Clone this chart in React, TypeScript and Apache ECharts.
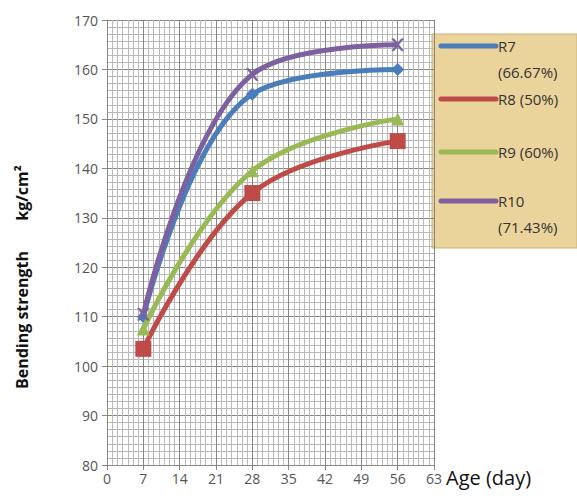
import React, { useEffect, useRef } from "react";
import * as echarts from "echarts";

const days = [7, 28, 56];
const seriesNames = ["R7", "R8", "R9", "R10"];
const legendLabels = ["R7\n(66.67%)", "R8 (50%)", "R9 (60%)", "R10\n(71.43%)"];
const r7 = [110, 155, 160];
const r8 = [103.5, 135, 145.5];
const r9 = [107.5, 139.5, 150];
const r10 = [110.5, 159, 165];
const xTicks = [0, 7, 14, 21, 28, 35, 42, 49, 56, 63];
const yTicks = [80, 90, 100, 110, 120, 130, 140, 150, 160, 170];
const yTitle = "Bending strength";
const yUnit = "kg/cm²";
const xTitle = "Age (day)";

const colors = ["#4a7ebb", "#be4b48", "#98b954", "#7d60a0"];
const xMark = "path://M0,0 L2,0 L5,3.5 L8,0 L10,0 L6,5 L10,10 L8,10 L5,6.5 L2,10 L0,10 L4,5 Z";
const symbols = ["diamond", "rect", "triangle", xMark];
const symbolSizes = [13, 16, 13, 12];

export default function App() {
  const ref = useRef<HTMLDivElement>(null);
  useEffect(() => {
    if (!ref.current) return;
    const chart = echarts.init(ref.current, null, { renderer: "svg" });
    const values = [r7, r8, r9, r10];
    const font = "'Open Sans', Lato, sans-serif";
    const legendY = [46, 99, 152, 201];
    const graphic: any[] = [
      {
        type: "rect",
        shape: { x: 432, y: 34, width: 145, height: 214 },
        style: { fill: "#ebd39c", stroke: "#c9b27a", lineWidth: 1 },
      },
    ];
    legendLabels.forEach((lab, i) => {
      graphic.push({
        type: "line",
        shape: { x1: 441, y1: legendY[i], x2: 496, y2: legendY[i] },
        style: { stroke: colors[i], lineWidth: 5, lineCap: "round" },
      });
      graphic.push({
        type: "text",
        x: 498,
        y: legendY[i] - 13,
        style: {
          text: lab,
          fill: "#333",
          font: `15px ${font}`,
          lineHeight: 26,
          textVerticalAlign: "top",
        },
      });
    });
    graphic.push({
      type: "text",
      x: 22,
      y: 320,
      rotation: Math.PI / 2,
      style: {
        text: yTitle,
        fill: "#111",
        font: `bold 16px ${font}`,
        textAlign: "center",
        textVerticalAlign: "middle",
      },
    });
    graphic.push({
      type: "text",
      x: 22,
      y: 193,
      rotation: Math.PI / 2,
      style: {
        text: yUnit,
        fill: "#111",
        font: `bold 16px ${font}`,
        textAlign: "center",
        textVerticalAlign: "middle",
      },
    });
    graphic.push({
      type: "text",
      x: 446,
      y: 477,
      style: {
        text: xTitle,
        fill: "#111",
        font: `20px ${font}`,
        textAlign: "left",
        textVerticalAlign: "middle",
      },
    });

    chart.setOption({
      animation: false,
      backgroundColor: "#ffffff",
      grid: { left: 107, top: 20, right: 143, bottom: 35, containLabel: false },
      xAxis: {
        type: "value",
        min: xTicks[0],
        max: xTicks[xTicks.length - 1],
        interval: 7,
        axisLine: { show: true, onZero: false, lineStyle: { color: "#888", width: 1 } },
        axisTick: { show: true, length: 5, lineStyle: { color: "#888" } },
        axisLabel: { color: "#555", fontSize: 14, fontFamily: font, margin: 6 },
        splitLine: { show: true, lineStyle: { color: "#858585", width: 1 } },
        minorTick: { show: false, splitNumber: 7 },
        minorSplitLine: { show: true, lineStyle: { color: "#b9b9b9", width: 1 } },
      },
      yAxis: {
        type: "value",
        min: yTicks[0],
        max: yTicks[yTicks.length - 1],
        interval: 10,
        axisLine: { show: true, lineStyle: { color: "#888", width: 1 } },
        axisTick: { show: true, length: 5, lineStyle: { color: "#888" } },
        axisLabel: { color: "#555", fontSize: 14, fontFamily: font, margin: 9 },
        splitLine: { show: true, lineStyle: { color: "#858585", width: 1 } },
        minorTick: { show: false, splitNumber: 7 },
        minorSplitLine: { show: true, lineStyle: { color: "#b9b9b9", width: 1 } },
      },
      graphic,
      series: seriesNames.map((name, i) => ({
        name,
        type: "line",
        smooth: 0.4,
        data: days.map((d, j) => [d, values[i][j]]),
        symbol: symbols[i],
        symbolSize: symbolSizes[i],
        showAllSymbol: true,
        lineStyle: { color: colors[i], width: 5 },
        itemStyle: { color: colors[i], borderColor: colors[i], borderWidth: i === 3 ? 0.5 : 0 },
        z: 3 + i,
      })),
    });
    return () => chart.dispose();
  }, []);
  return (
    <div
      ref={ref}
      style={{ position: "fixed", left: 0, top: 0, width: 577, height: 500 }}
    />
  );
}
